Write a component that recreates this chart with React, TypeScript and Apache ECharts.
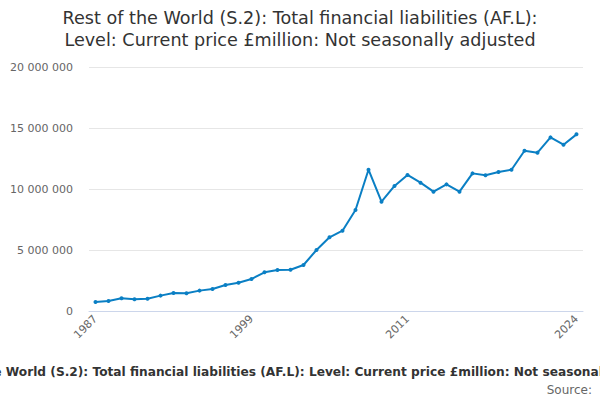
import React, { useEffect, useRef } from "react";
import * as echarts from "echarts";

const years = [
  "1987", "1988", "1989", "1990", "1991", "1992", "1993", "1994", "1995", "1996",
  "1997", "1998", "1999", "2000", "2001", "2002", "2003", "2004", "2005", "2006",
  "2007", "2008", "2009", "2010", "2011", "2012", "2013", "2014", "2015", "2016",
  "2017", "2018", "2019", "2020", "2021", "2022", "2023", "2024",
];

const liabilities = [
  740000, 820000, 1040000, 960000, 1010000, 1260000, 1480000, 1450000, 1670000, 1800000,
  2130000, 2320000, 2620000, 3170000, 3360000, 3380000, 3770000, 5000000, 6040000, 6580000,
  8280000, 11580000, 8960000, 10250000, 11150000, 10520000, 9780000, 10380000, 9780000, 11280000,
  11120000, 11390000, 11580000, 13140000, 12980000, 14230000, 13630000, 14480000,
];

const seriesName =
  "Rest of the World (S.2): Total financial liabilities (AF.L): Level: Current price £million: Not seasonally adjusted";
const titleText =
  "Rest of the World (S.2): Total financial liabilities (AF.L):\nLevel: Current price £million: Not seasonally adjusted";
const labelYears = ["1987", "1999", "2011", "2024"];

const FONT = "DejaVu Sans";

function fmt(v: number): string {
  return String(v).replace(/\B(?=(\d{3})+(?!\d))/g, " ");
}

export default function App() {
  const ref = useRef<HTMLDivElement>(null);
  useEffect(() => {
    if (!ref.current) return;
    const chart = echarts.init(ref.current, null, { renderer: "svg" });
    const last = years.length - 1;
    chart.setOption({
      animation: false,
      textStyle: { fontFamily: FONT },
      title: {
        text: titleText,
        left: "center",
        top: 2,
        textStyle: {
          fontFamily: FONT,
          fontSize: 17.6,
          fontWeight: "normal",
          color: "#333333",
          lineHeight: 22,
        },
      },
      legend: {
        top: 360,
        left: "center",
        icon: "none",
        itemWidth: 0,
        selectedMode: false,
        data: [seriesName],
        textStyle: {
          fontFamily: FONT,
          fontSize: 12.2,
          fontWeight: "bold",
          color: "#333333",
        },
      },
      graphic: [
        {
          type: "text",
          right: 8,
          top: 384,
          style: {
            text: "Source:",
            fontFamily: FONT,
            fontSize: 12,
            fill: "#666666",
          },
        },
      ],
      grid: { left: 89, right: 17, top: 67, bottom: 89, containLabel: false },
      xAxis: {
        type: "category",
        data: years,
        boundaryGap: true,
        axisLine: { lineStyle: { color: "#ccd6eb" } },
        axisTick: {
          alignWithLabel: true,
          length: 9,
          lineStyle: { color: "#ccd6eb" },
          interval: (i: number) => (i % 3 === 0 && i <= 33) || i === last,
        },
        axisLabel: {
          rotate: 45,
          fontFamily: FONT,
          fontSize: 11,
          color: "#666666",
          margin: 6,
          interval: (i: number, v: string) => labelYears.includes(v),
        },
      },
      yAxis: {
        type: "value",
        min: 0,
        max: 20000000,
        interval: 5000000,
        axisLine: { show: false },
        axisTick: { show: false },
        splitLine: { lineStyle: { color: "#e6e6e6" } },
        axisLabel: {
          fontFamily: FONT,
          fontSize: 11,
          color: "#666666",
          margin: 16,
          formatter: (v: number) => fmt(v),
        },
      },
      series: [
        {
          name: seriesName,
          type: "line",
          data: liabilities,
          symbol: "circle",
          symbolSize: 4,
          lineStyle: { color: "#0a7fc4", width: 2 },
          itemStyle: { color: "#0a7fc4" },
        },
      ],
    });
    return () => chart.dispose();
  }, []);
  return (
    <div
      ref={ref}
      style={{ position: "absolute", left: 0, top: 0, width: 600, height: 400 }}
    />
  );
}
